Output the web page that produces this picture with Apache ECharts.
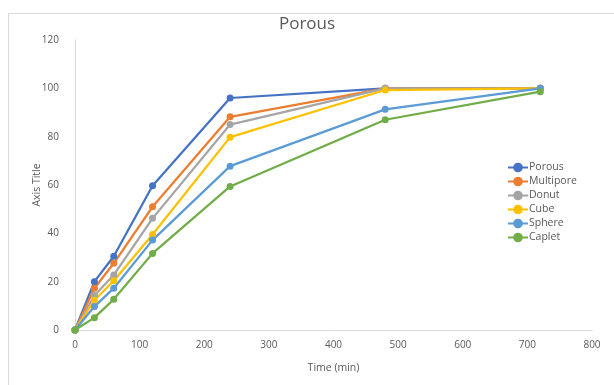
<!DOCTYPE html>
<html>
<head>
<meta charset="utf-8">
<script src="https://cdn.jsdelivr.net/npm/echarts@6/dist/echarts.min.js"></script>
<style>
  html, body { margin: 0; padding: 0; background: #fff; }
  #main { width: 614px; height: 385px; }
</style>
</head>
<body>
<div id="main"></div>
<script>
// time points (min)
const TIMES = [0, 30, 60, 120, 240, 480, 720]
// release per shape
const POROUS = [0, 20, 30.5, 59.7, 96, 100, 100]
const MULTIPORE = [0, 17.3, 27.6, 51, 88.2, 100, 100]
const DONUT = [0, 14.3, 22.8, 46.2, 85, 100, 100]
const CUBE = [0, 12.3, 20.4, 39.5, 79.8, 99.3, 100]
const SPHERE = [0, 9.7, 17.3, 37.2, 67.8, 91.3, 100]
const CAPLET = [0, 5.1, 12.7, 31.7, 59.4, 87, 98.6]

const NAMES = ['Porous', 'Multipore', 'Donut', 'Cube', 'Sphere', 'Caplet']
const VALUES = [POROUS, MULTIPORE, DONUT, CUBE, SPHERE, CAPLET]
const COLORS = ['#4472C4', '#ED7D31', '#A5A5A5', '#FFC000', '#5B9BD5', '#70AD47']

const font = 'Open Sans'
const grey = '#595959'

const chart = echarts.init(document.getElementById('main'))

const series = NAMES.map(function (name, k) {
  return {
    name: name,
    type: 'line',
    data: TIMES.map(function (t, i) { return [t, VALUES[k][i]] }),
    symbol: 'circle',
    symbolSize: 7,
    lineStyle: { width: 2.25 },
    itemStyle: { color: COLORS[k] }
  }
})

chart.setOption({
  animation: false,
  backgroundColor: '#fff',
  color: COLORS,
  graphic: [{
    type: 'rect',
    shape: { x: 8.5, y: 13.5, width: 700, height: 500 },
    style: { fill: 'none', stroke: '#d9d9d9', lineWidth: 1 },
    silent: true
  }],
  title: {
    text: 'Porous',
    left: 'center',
    top: 11,
    textStyle: { fontFamily: font, fontSize: 17, fontWeight: 'normal', color: grey }
  },
  legend: {
    orient: 'vertical',
    left: 502,
    top: 157,
    itemGap: 3,
    itemWidth: 20,
    itemHeight: 12,
    textStyle: { fontFamily: font, fontSize: 10.5, color: grey, padding: [0, 0, 0, -4] },
    data: NAMES
  },
  grid: { left: 75, right: 22, top: 40, bottom: 55 },
  xAxis: {
    type: 'value',
    min: 0,
    max: 800,
    interval: 100,
    name: 'Time (min)',
    nameLocation: 'middle',
    nameGap: 33,
    nameMoveOverlap: false,
    nameTextStyle: { fontFamily: font, fontSize: 10.5, color: grey },
    axisLine: { lineStyle: { color: '#d9d9d9' } },
    axisTick: { show: false },
    splitLine: { show: false },
    axisLabel: { fontFamily: font, fontSize: 10, color: grey, margin: 10 }
  },
  yAxis: {
    type: 'value',
    min: 0,
    max: 120,
    interval: 20,
    name: 'Axis Title',
    nameLocation: 'middle',
    nameGap: 32,
    nameMoveOverlap: false,
    nameTextStyle: { fontFamily: font, fontSize: 10.5, color: grey },
    axisLine: { show: true, lineStyle: { color: '#d9d9d9' } },
    axisTick: { show: false },
    splitLine: { show: false },
    axisLabel: { fontFamily: font, fontSize: 10, color: grey, margin: 16 }
  },
  series: series
})
</script>
</body>
</html>
